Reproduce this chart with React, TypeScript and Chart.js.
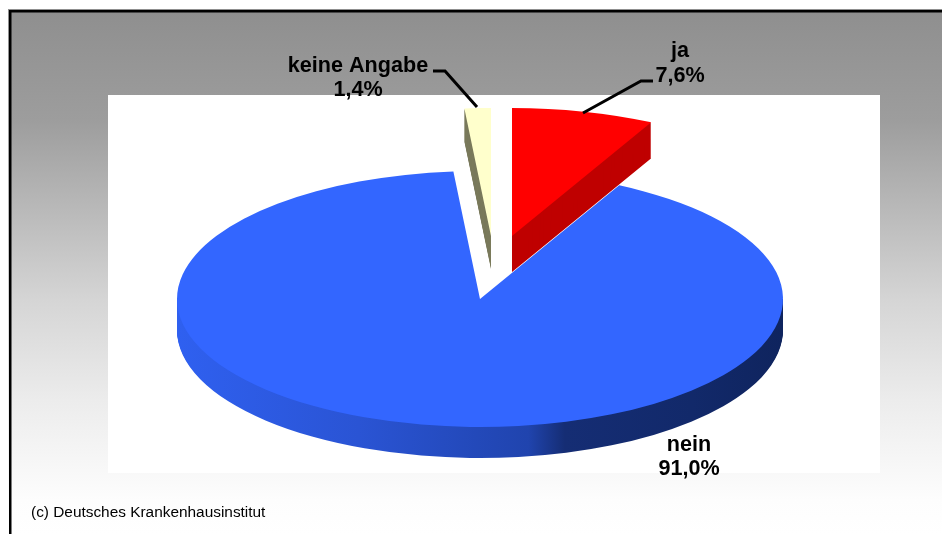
import React, { useEffect, useRef } from "react";
import { Chart, registerables } from "chart.js";

Chart.register(...registerables);

const categories = ["ja", "nein", "keine Angabe"];
const shares = [7.6, 91.0, 1.4];
const shareLabels = ["7,6%", "91,0%", "1,4%"];
const topColors = ["#ff0000", "#3366ff", "#ffffcc"];
const wallColors = ["#bf0000", "#1f3f9f", "#7a7a5c"];
const blueWallStops: [number, string][] = [[0, "#2f60f0"], [0.3, "#2a54d4"], [0.58, "#2044ae"], [0.64, "#152d74"], [0.85, "#12296a"], [1, "#0f245e"]];
const explode = [[32, -63], [0, 0], [11, -63]];
const WIDTH = 942, HEIGHT = 534;
const CX = 480, CY = 299, RX = 303, RY = 128, DEPTH = 31;
const FONT = '"Liberation Sans", Arial, sans-serif';

const texts: [string, number, number][] = [
  [categories[2], 358, 72],
  [shareLabels[2], 358, 96],
  [categories[0], 680, 57],
  [shareLabels[0], 680, 82],
  [categories[1], 689, 451],
  [shareLabels[1], 689, 475],
];
const leaders = [
  [[433, 71], [445, 71], [477, 107]],
  [[653, 81], [641, 81], [583, 113]],
];
const bgStops: [number, string][] = [[12, "#8f8f8f"], [120, "#9d9d9d"], [200, "#b6b6b6"], [300, "#d5d5d5"], [400, "#ececec"], [500, "#fdfdfd"], [534, "#ffffff"]];

const piePlugin = {
  id: "pie3d",
  beforeDraw(chart: any) {
    const { ctx } = chart;
    ctx.save();
    ctx.fillStyle = "#ffffff";
    ctx.fillRect(0, 0, WIDTH, HEIGHT);
    const g = ctx.createLinearGradient(0, 0, 0, HEIGHT);
    bgStops.forEach(([y, c]) => g.addColorStop(y / HEIGHT, c));
    ctx.fillStyle = g;
    ctx.fillRect(8, 9, WIDTH - 8, HEIGHT - 9);
    ctx.fillStyle = "#000000";
    ctx.fillRect(9, 10, WIDTH - 9, 2.5);
    ctx.fillRect(9, 10, 2.5, HEIGHT - 10);
    ctx.fillStyle = "#ffffff";
    ctx.fillRect(108, 95, 772, 378);
    ctx.restore();
  },
  beforeDatasetsDraw(chart: any) {
    const { ctx } = chart;
    const arcs = chart.getDatasetMeta(0).data;
    const drawOne = (arc: any, i: number, shift: number, fill: any) => {
      const R = arc.outerRadius;
      ctx.save();
      ctx.translate(CX + explode[i][0], CY + explode[i][1] + shift);
      ctx.scale(RX / R, RY / R);
      ctx.translate(-arc.x, -arc.y);
      const proxy = Object.create(arc, {
        options: { value: { ...arc.options, backgroundColor: fill, borderWidth: 0, offset: 0 }, writable: true },
      });
      proxy.draw(ctx);
      ctx.restore();
    };
    arcs.forEach((arc: any, i: number) => {
      if (i !== 1) return;
      const R = arc.outerRadius;
      const wall = ctx.createLinearGradient(arc.x - R, 0, arc.x + R, 0);
      blueWallStops.forEach(([s, c]) => wall.addColorStop(s, c));
      ctx.save();
      ctx.beginPath();
      ctx.rect(0, CY, WIDTH, HEIGHT - CY);
      ctx.clip();
      for (let d = DEPTH; d >= 1; d--) drawOne(arc, i, d, wall);
      ctx.restore();
      drawOne(arc, i, 0, topColors[i]);
    });
    arcs.forEach((arc: any, i: number) => {
      if (i === 1) return;
      const depth = i === 0 ? 36 : 33;
      for (let d = depth; d >= 1; d--) drawOne(arc, i, d, wallColors[i]);
      drawOne(arc, i, 0, topColors[i]);
    });
    return false;
  },
  afterDraw(chart: any) {
    const { ctx } = chart;
    ctx.save();
    ctx.strokeStyle = "#000000";
    ctx.lineWidth = 3;
    leaders.forEach((pts) => {
      ctx.beginPath();
      pts.forEach(([x, y], k) => (k ? ctx.lineTo(x, y) : ctx.moveTo(x, y)));
      ctx.stroke();
    });
    ctx.fillStyle = "#000000";
    ctx.textAlign = "center";
    ctx.textBaseline = "alphabetic";
    ctx.font = `bold 21.6px ${FONT}`;
    texts.forEach(([t, x, y]) => ctx.fillText(t, x, y));
    ctx.textAlign = "left";
    ctx.font = `15.4px ${FONT}`;
    ctx.fillText("(c) Deutsches Krankenhausinstitut", 31, 517);
    ctx.restore();
  },
};

export default function App() {
  const ref = useRef<HTMLCanvasElement>(null);
  useEffect(() => {
    const chart = new Chart(ref.current as HTMLCanvasElement, {
      type: "pie",
      data: {
        labels: categories,
        datasets: [{ data: shares, backgroundColor: topColors, borderWidth: 0 }],
      },
      options: {
        responsive: false,
        animation: false,
        plugins: { legend: { display: false }, tooltip: { enabled: false } },
      },
      plugins: [piePlugin],
    } as any);
    return () => chart.destroy();
  }, []);
  return (
    <canvas
      ref={ref}
      width={WIDTH}
      height={HEIGHT}
      style={{ position: "fixed", left: 0, top: 0, width: WIDTH, height: HEIGHT, display: "block" }}
    />
  );
}
